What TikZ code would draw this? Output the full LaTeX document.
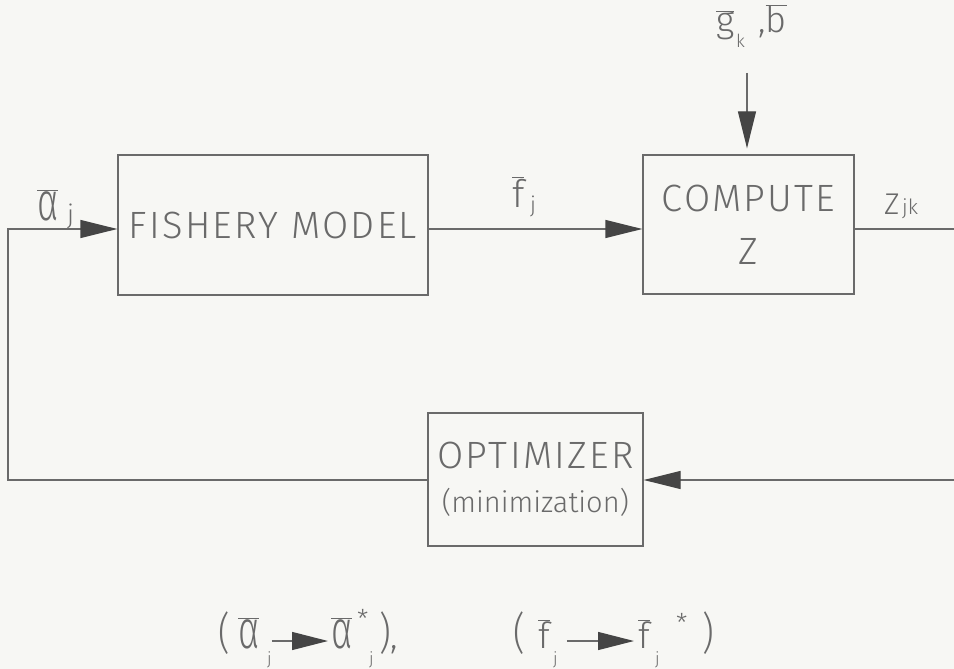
\documentclass[tikz,border=0pt]{standalone}
\usepackage{graphicx}
\usepackage{fontspec}
\setmainfont{Fira Sans Light}
\newfontfamily\blockfont{Fira Sans Light}[LetterSpace=6]
\usetikzlibrary{arrows.meta}

\definecolor{ink}{HTML}{6A6A6A}
\definecolor{headink}{HTML}{454545}
\definecolor{paper}{HTML}{F7F7F4}

% barred symbol, tall alpha, tall parenthesis
\newcommand{\ob}[1]{$\overline{\mbox{#1}}$}
\newcommand{\alf}{\scalebox{1}[1.5]{α}}
\newcommand{\tallpar}[1]{\scalebox{1}[1.22]{#1}}

\begin{document}
\begin{tikzpicture}[x=1pt,y=-1pt,
  blk/.style={draw=ink, line width=1.3pt, inner sep=0pt, text=ink, align=center},
  lbl/.style={text=ink, inner sep=0pt, anchor=base west, font=\fontsize{36}{40}\selectfont},
  sublbl/.style={lbl, font=\fontsize{18}{18}\selectfont},
  wire/.style={draw=ink, line width=1.3pt},
  flow/.style={wire, -{Triangle[length=37pt,width=18pt,color=headink,fill=headink]}},
  flowsm/.style={wire, -{Triangle[length=36pt,width=18pt,color=headink,fill=headink]}},
]
\fill[paper] (0,0) rectangle (954,669);
\useasboundingbox (0,0) rectangle (954,669);

% blocks
\node[blk, minimum width=310pt, minimum height=140pt,
      font=\fontsize{38}{44}\blockfont] (fish) at (273,225) {\raisebox{-5pt}{FISHERY MODEL}};
\node[blk, minimum width=211pt, minimum height=139pt,
      font=\fontsize{38}{53}\blockfont] (comp) at (748.5,224.5) {COMPUTE\\Z};
\node[blk, minimum width=215pt, minimum height=133pt,
      font=\fontsize{38}{46}\blockfont] (opt) at (535.5,479.5)
      {\raisebox{-2pt}{OPTIMIZER}\\{\fontsize{29}{30}\rmfamily (minimization)}};

% free ends of the connectors
\coordinate (lt) at (8,229);
\coordinate (lb) at (8,480);
\coordinate (rt) at (954,229);
\coordinate (rb) at (954,480);
\coordinate (src) at (747,73);

% connectors
\draw[flow] (opt.west |- lb) -- (lb) -- (lt) -- (lt -| fish.west);
\draw[flow] (fish.east |- lt) -- (comp.west |- lt);
\draw[wire] (comp.east |- lt) -- (rt);
\draw[flow] (rb) -- (opt.east |- rb);
\draw[flow, shorten >=6pt] (src) -- (src |- comp.north);

% signal labels
\node[lbl] (alab) at (37,220) {\ob{\alf}};
\node[sublbl, font=\fontsize{26}{26}\selectfont] (alabj) at (67,223) {j};
\node[lbl, font=\fontsize{38}{40}\selectfont] (flab) at (512,207) {\ob{f}};
\node[sublbl, font=\fontsize{22}{22}\selectfont] (flabj) at (530,212) {j};
\node[lbl] (glab) at (716,33) {\ob{g}};
\node[sublbl] (glabk) at (736,48) {k};
\node[lbl] (blab) at (752,33) {\,,\ob{b}};
\node[lbl, font=\fontsize{30}{30}\selectfont] (zlab) at (884,214) {Z};
\node[sublbl, font=\fontsize{21}{21}\selectfont] (zlabjk) at (902,214) {jk};

% result of the optimization
\node[lbl] (pa) at (218,648) {\tallpar{(}};
\node[lbl] (a1) at (238,648) {\ob{\alf}};
\node[sublbl, font=\fontsize{17}{17}\selectfont] (a1j) at (267,664) {j};
\node[lbl] (a2) at (331,648) {\ob{\alf}};
\node[sublbl, font=\fontsize{26}{26}\selectfont] (a2s) at (357,628) {*};
\node[sublbl, font=\fontsize{17}{17}\selectfont] (a2j) at (369,664) {j};
\node[lbl] (pb) at (379,648) {\tallpar{)},};
\node[lbl] (pc) at (513,648) {\tallpar{(}};
\node[lbl] (f1) at (538,648) {\ob{f}};
\node[sublbl, font=\fontsize{17}{17}\selectfont] (f1j) at (553,664) {j};
\node[lbl] (f2) at (638,648) {\ob{f}};
\node[sublbl, font=\fontsize{17}{17}\selectfont] (f2j) at (655,664) {j};
\node[sublbl, font=\fontsize{26}{26}\selectfont] (f2s) at (676,632) {*};
\node[lbl] (pd) at (702,648) {\tallpar{)}};
\coordinate (ay) at (0,641);
\draw[flowsm] (a1j.east |- ay) -- ([xshift=-3pt]a2.west |- ay);
\draw[flowsm] ([xshift=9pt]f1j.east |- ay) -- ([xshift=-4pt]f2.west |- ay);
\end{tikzpicture}
\end{document}
